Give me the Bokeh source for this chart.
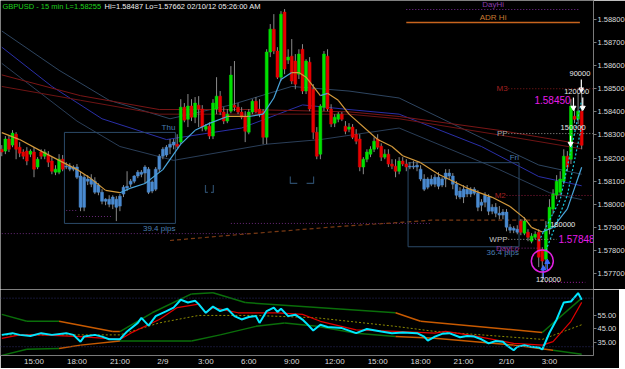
from bokeh.plotting import figure
from bokeh.models import Range1d, FixedTicker, PrintfTickFormatter, Label, Span
from bokeh.layouts import column
from bokeh.embed import file_html
from bokeh.resources import INLINE
from bokeh.core.properties import value

# ---------------- data ----------------
symbol = "GBPUSD"
interval = "15 min"
stamp = "02/10/12  05:26:00 AM"
day_start = 141  # first bar of 2/10

opens = [
1.58238,1.58230,1.58282,1.58256,1.58303,1.58247,1.58226,1.58230,1.58217,1.58226,
1.58161,1.58226,1.58208,1.58213,1.58187,1.58139,1.58139,1.58195,1.58161,1.58165,
1.58152,1.58161,1.58122,1.57987,1.58109,1.58109,1.58100,1.58083,1.58052,1.58013,
1.58022,1.58000,1.58022,1.57992,1.58044,1.58070,1.58087,1.58100,1.58122,1.58130,
1.58135,1.58152,1.58057,1.58065,1.58152,1.58208,1.58213,1.58247,1.58256,1.58260,
1.58269,1.58420,1.58368,1.58425,1.58377,1.58429,1.58412,1.58325,1.58338,1.58295,
1.58412,1.58468,1.58399,1.58360,1.58403,1.58429,1.58420,1.58399,1.58381,1.58312,
1.58399,1.58446,1.58412,1.58403,1.58290,1.58659,1.58758,1.58663,1.58550,1.58832,
1.58624,1.58641,1.58620,1.58563,1.58671,1.58490,1.58615,1.58498,1.58312,1.58217,
1.58420,1.58641,1.58412,1.58351,1.58368,1.58390,1.58338,1.58325,1.58334,1.58303,
1.58282,1.58161,1.58195,1.58217,1.58238,1.58282,1.58251,1.58204,1.58217,1.58174,
1.58165,1.58143,1.58187,1.58174,1.58161,1.58165,1.58161,1.58152,1.58109,1.58074,
1.58109,1.58087,1.58117,1.58083,1.58109,1.58135,1.58122,1.58087,1.58057,1.58031,
1.58065,1.58044,1.58065,1.58048,1.57996,1.58009,1.58031,1.57970,1.57987,1.57961,
1.57953,1.57966,1.57901,1.57888,1.57892,1.57927,1.57875,1.57879,1.57840,1.57857,
1.57879,1.57805,1.57762,1.57892,1.57979,1.58039,1.58052,1.58100,1.58208,1.58195,
1.58381,1.58368,1.58403]
highs = [
1.58256,1.58295,1.58295,1.58321,1.58312,1.58269,1.58238,1.58247,1.58238,1.58247,
1.58204,1.58238,1.58238,1.58230,1.58204,1.58169,1.58217,1.58213,1.58182,1.58178,
1.58169,1.58174,1.58143,1.58130,1.58126,1.58130,1.58117,1.58091,1.58065,1.58026,
1.58039,1.58039,1.58035,1.58044,1.58083,1.58143,1.58109,1.58126,1.58148,1.58148,
1.58169,1.58161,1.58103,1.58161,1.58217,1.58247,1.58256,1.58282,1.58282,1.58303,
1.58455,1.58438,1.58477,1.58455,1.58464,1.58468,1.58429,1.58347,1.58355,1.58455,
1.58550,1.58490,1.58420,1.58412,1.58598,1.58620,1.58438,1.58420,1.58403,1.58412,
1.58455,1.58464,1.58455,1.58412,1.58671,1.58780,1.58823,1.58680,1.58836,1.58845,
1.58671,1.58715,1.58650,1.58671,1.58693,1.58628,1.58637,1.58520,1.58334,1.58433,
1.58663,1.58671,1.58433,1.58390,1.58399,1.58399,1.58360,1.58351,1.58347,1.58325,
1.58303,1.58204,1.58238,1.58251,1.58290,1.58303,1.58264,1.58238,1.58238,1.58195,
1.58195,1.58204,1.58204,1.58195,1.58182,1.58187,1.58182,1.58169,1.58130,1.58117,
1.58126,1.58130,1.58139,1.58117,1.58152,1.58152,1.58135,1.58100,1.58074,1.58083,
1.58083,1.58074,1.58074,1.58061,1.58022,1.58052,1.58044,1.58000,1.58005,1.57992,
1.57979,1.57979,1.57914,1.57905,1.57909,1.57935,1.57944,1.57892,1.57875,1.57883,
1.57892,1.57814,1.57927,1.58022,1.58065,1.58126,1.58143,1.58238,1.58230,1.58455,
1.58420,1.58477,1.58487]
lows = [
1.58208,1.58217,1.58226,1.58247,1.58195,1.58204,1.58195,1.58169,1.58204,1.58117,
1.58152,1.58195,1.58195,1.58161,1.58130,1.58126,1.58130,1.58143,1.58152,1.58143,
1.58143,1.58109,1.57970,1.57970,1.58083,1.58074,1.58044,1.58039,1.58000,1.57996,
1.57987,1.57979,1.57927,1.57970,1.58031,1.58057,1.58074,1.58091,1.58113,1.58117,
1.58091,1.58044,1.58048,1.58057,1.58139,1.58195,1.58204,1.58217,1.58238,1.58243,
1.58260,1.58355,1.58334,1.58360,1.58351,1.58334,1.58316,1.58316,1.58282,1.58282,
1.58390,1.58386,1.58347,1.58351,1.58394,1.58403,1.58390,1.58368,1.58269,1.58303,
1.58390,1.58394,1.58377,1.58260,1.58260,1.58637,1.58650,1.58542,1.58533,1.58563,
1.58607,1.58520,1.58498,1.58542,1.58477,1.58477,1.58403,1.58282,1.58195,1.58195,
1.58403,1.58403,1.58334,1.58334,1.58355,1.58360,1.58303,1.58312,1.58282,1.58260,
1.58143,1.58130,1.58182,1.58204,1.58226,1.58238,1.58187,1.58195,1.58161,1.58152,
1.58117,1.58130,1.58165,1.58143,1.58152,1.58152,1.58143,1.58100,1.58057,1.58065,
1.58078,1.58074,1.58065,1.58074,1.58074,1.58109,1.58065,1.58022,1.58022,1.58005,
1.58031,1.58031,1.58039,1.57970,1.57970,1.57987,1.57953,1.57957,1.57944,1.57935,
1.57935,1.57883,1.57875,1.57875,1.57870,1.57866,1.57866,1.57840,1.57831,1.57849,
1.57728,1.57662,1.57719,1.57870,1.57957,1.58022,1.58039,1.58087,1.58143,1.58174,
1.58351,1.58347,1.58238]
closes = [
1.58226,1.58282,1.58238,1.58308,1.58238,1.58221,1.58208,1.58187,1.58230,1.58152,
1.58195,1.58208,1.58226,1.58182,1.58143,1.58152,1.58195,1.58152,1.58165,1.58152,
1.58161,1.58117,1.57987,1.58117,1.58100,1.58087,1.58052,1.58052,1.58013,1.58022,
1.58000,1.58031,1.57987,1.58035,1.58074,1.58078,1.58100,1.58122,1.58139,1.58139,
1.58161,1.58052,1.58096,1.58152,1.58208,1.58238,1.58247,1.58260,1.58269,1.58251,
1.58420,1.58364,1.58425,1.58377,1.58438,1.58412,1.58334,1.58338,1.58295,1.58438,
1.58468,1.58399,1.58360,1.58390,1.58559,1.58420,1.58399,1.58377,1.58316,1.58399,
1.58446,1.58399,1.58390,1.58290,1.58659,1.58758,1.58663,1.58550,1.58823,1.58585,
1.58637,1.58533,1.58520,1.58650,1.58490,1.58620,1.58412,1.58312,1.58208,1.58425,
1.58650,1.58412,1.58347,1.58377,1.58390,1.58368,1.58316,1.58334,1.58290,1.58273,
1.58161,1.58195,1.58226,1.58238,1.58273,1.58247,1.58204,1.58217,1.58174,1.58165,
1.58143,1.58187,1.58174,1.58161,1.58165,1.58161,1.58169,1.58109,1.58065,1.58109,
1.58087,1.58117,1.58078,1.58109,1.58135,1.58122,1.58087,1.58039,1.58031,1.58065,
1.58044,1.58065,1.58048,1.57987,1.58009,1.58039,1.57970,1.57987,1.57961,1.57953,
1.57966,1.57901,1.57888,1.57896,1.57879,1.57879,1.57927,1.57857,1.57862,1.57870,
1.57771,1.57754,1.57892,1.57987,1.58044,1.58100,1.58109,1.58208,1.58161,1.58425,
1.58368,1.58403,1.58255]

# session boxes
sess_names = ["Thu", "Fri"]
sess_start = [18, 114]
sess_end = [48, 144]
sess_high = [1.58311, 1.58180]
sess_pips = [39.4, 36.4]

# open-range brackets (left bar, right bar, top, bottom)
brk_left = [56.9, 80.6]
brk_right = [59.1, 87.1]
brk_top = [1.58083, 1.58120]
brk_bot = [1.58051, 1.58090]

# moving averages (bar index, price)
ma1_i = [0,5,11,16,21,25,29,33,36,40,45,50,54,58,63,69,73,76,78,81,83,85,87,89,91,94,97,105,109,112,117,122,130,137,142,146,148,151,154,158,162]
ma1_p = [1.5831,1.5828,1.5823,1.5819,1.5815,1.5811,1.5806,1.5805,1.5807,1.5809,1.5815,1.5826,1.5832,1.5835,1.5838,1.5838,1.5839,1.5846,1.5854,1.5857,1.5857,1.5855,1.5851,1.5847,1.5848,1.5845,1.5839,1.5828,1.5825,1.5821,1.5818,1.5813,1.5807,1.5803,1.5799,1.5794,1.5790,1.5788,1.5790,1.5798,1.5816]
slate_top_i = [0,16,30,47,64,81,97,111,135,150,162]
slate_top_p = [1.5875,1.5858,1.5845,1.5837,1.5843,1.5851,1.5849,1.5846,1.5828,1.5817,1.5813]
navy_i = [0,14,28,46,67,84,97,111,134,150,162]
navy_p = [1.5868,1.5851,1.5837,1.5828,1.5833,1.5843,1.5841,1.5839,1.5825,1.5812,1.5808]
slate_bot_i = [0,21,33,48,74,89,111,139,153,162]
slate_bot_p = [1.5861,1.5836,1.5825,1.5819,1.5826,1.5828,1.5833,1.5815,1.5805,1.5802]
red_i = [0,22,44,69,97,111,139,162]
redA_p = [1.5856,1.5847,1.5841,1.5841,1.5840,1.5838,1.5832,1.5826]
redB_p = [1.5851,1.5845,1.5839,1.5839,1.5839,1.5837,1.5830,1.5824]
cyan1_i = [150,156,162]
cyan1_p = [1.5784,1.5802,1.5845]
cyan2_i = [152,158,162]
cyan2_p = [1.5780,1.5804,1.5834]
adrlo_i = [47,64,92,120,152]
adrlo_p = [1.57843,1.57866,1.57901,1.57931,1.57931]

# signal arrows (bar, arrow top price, arrow bottom price)
dn_bar = [158.9, 159.7, 161.9, 162.3]
dn_top = [1.58296, 1.58462, 1.58540, 1.58462]
dn_bot = [1.58262, 1.58418, 1.58497, 1.58418]
up_bar = [151.3, 152.4]
up_top = [1.57722, 1.57750]
up_bot = [1.57680, 1.57712]

# pivot / range levels
lvl_names = ["DayHi", "ADR Hi", "M3", "PP", "M2", "WPP", "DayLo"]
lvl_prices = [1.58843, 1.58787, 1.58500, 1.58306, 1.58038, 1.57848, 1.57810]
sup_prices = [1.57873, 1.57917, 1.57973, 1.57947]
mark_price = 1.58450
vol_text = ["90000", "120000", "150000", "180000", "120000"]
vol_bar = [161.5, 160.6, 159.6, 156.7, 152.7]
vol_price = [1.58566, 1.58488, 1.58332, 1.57912, 1.57674]

# oscillator
rsi_i = [0,3,5,8,11,14,18,20,22,23,26,28,30,33,35,38,39,41,43,46,48,50,52,54,55,57,59,61,63,65,67,69,71,72,74,76,77,78,80,82,84,85,87,89,91,95,99,102,106,109,112,116,118,119,121,123,125,128,130,132,134,136,138,140,141,143,144,146,148,150,151,153,155,157,159,161,162]
rsi_v = [40.4,41.7,40.4,39.6,41.7,40.4,41.7,40.4,35.3,39.1,40.4,39.1,37.1,37.1,43.0,49.4,53.2,47.3,54.5,58.3,60.9,66.8,64.7,66.0,63.5,57.0,61.7,58.3,60.0,54.5,52.0,53.8,54.5,49.4,58.3,60.9,57.6,60.0,54.5,55.6,51.9,49.4,43.7,48.0,46.3,45.5,41.7,44.8,43.0,41.7,42.2,41.7,39.1,36.1,39.1,41.2,41.7,38.6,39.6,39.1,37.1,34.0,35.8,35.3,32.7,28.8,31.4,32.7,31.4,31.0,29.4,42.0,52.0,64.8,65.5,71.8,66.87]
sig_i = [0,5,11,22,33,36,44,49,55,57,59,66,77,84,89,99,110,121,124,132,143,151,154,159,162]
sig_v = [37.8,40.4,40.4,39.1,37.0,41.7,52.0,60.9,63.5,57.0,60.9,57.0,57.0,55.8,50.6,44.2,43.0,41.7,43.0,39.6,34.0,32.7,35.3,50.6,64.8]
upper_i = [0,7,16,31,33,42,53,59,68,110,117,151,162]
upper_v = [55.8,50.6,50.6,42.9,42.9,57.0,71.2,72.0,64.7,57.0,50.6,42.2,68.0]
lower_i = [0,7,16,22,33,53,61,71,79,88,99,110,121,143,154,162]
lower_v = [25.0,29.6,30.1,32.7,35.8,35.8,40.4,46.8,49.4,46.8,41.7,39.1,37.8,32.7,28.8,25.8]
mid_i = [0,33,44,55,71,88,110,121,143,151,162]
mid_v = [40.4,40.4,49.4,55.0,55.0,53.2,46.8,43.0,38.6,37.0,48.0]
osc_levels = [68.0, 31.5]
squeeze_spans = [(16, 33), (110, 151)]

price_ticks = [1.577,1.578,1.579,1.580,1.581,1.582,1.583,1.584,1.585,1.586,1.587,1.588]
osc_ticks = [35, 45, 55]
tick_bars = [9,21,33,45,57,69,81,93,105,117,129,141,153]
tick_labels = ["15:00","18:00","21:00","2/9","3:00","6:00","9:00","12:00","15:00","18:00","21:00","2/10","3:00"]

# ---------------- drawing ----------------
FONT = "Liberation Sans"
F = value(FONT)
x_lo, x_hi = -0.36, 165.3
y_lo, y_hi = 1.57631, 1.58882
FW, FH = 593, 289

def style_axis(ax, size):
    ax.major_label_text_color = "#dcdcdc"
    ax.major_label_text_font = FONT
    ax.major_label_text_font_size = size
    ax.axis_line_color = "#7a7a7a"
    ax.major_tick_line_color = "#7a7a7a"
    ax.major_tick_out = 3
    ax.major_tick_in = 0
    ax.minor_tick_out = 0
    ax.minor_tick_in = 0
    ax.major_label_standoff = 1

p = figure(frame_width=FW, frame_height=FH, x_range=Range1d(x_lo, x_hi), y_range=Range1d(y_lo, y_hi),
           x_axis_location=None, y_axis_location="right", toolbar_location=None, output_backend="svg",
           background_fill_color="black", border_fill_color="black", outline_line_color=None,
           min_border_left=0, min_border_right=0, min_border_top=0, min_border_bottom=0)
p.grid.visible = False
yax = p.yaxis[0]
yax.ticker = FixedTicker(ticks=price_ticks)
yax.formatter = PrintfTickFormatter(format="%.5f")
style_axis(yax, "7.5px")

def txt(fig, x, y, s, color, size="8px", align="left", baseline="middle"):
    fig.text(x=[x], y=[y], text=[s], text_color=color, text_font=F, text_font_size=size,
             text_align=align, text_baseline=baseline)

# long moving averages
p.line(slate_top_i, slate_top_p, line_color="#2e4560", line_width=1)
p.line(slate_bot_i, slate_bot_p, line_color="#2a3e58", line_width=1)
p.line(navy_i, navy_p, line_color="#2a2fa8", line_width=1)
p.line(red_i, redA_p, line_color="#7a1616", line_width=1)
p.line(red_i, redB_p, line_color="#6e1414", line_width=1)

# support / range lines
sup_span = [(0, 69), (64, 120), (18, 21), (21, 31)]
for pr, (a, b) in zip(sup_prices, sup_span):
    p.line([a, b], [pr, pr], line_color="#6a2a7a", line_dash="1 2", line_width=1)
p.line(adrlo_i, adrlo_p, line_color="#7a3a14", line_dash="4 3", line_width=1.2)

# session boxes
for nm, s, e, hi, pips in zip(sess_names, sess_start, sess_end, sess_high, sess_pips):
    lo = hi - pips / 10000.0
    p.quad(left=[s - 0.5], right=[e + 0.5], top=[hi], bottom=[lo], fill_color=None,
           line_color="#2b4a68", line_width=1)
    txt(p, e + 0.5, hi + 0.00003, nm, "#4a7eb0", "8px", "right", "bottom")
    txt(p, e + 0.5, lo - 0.00004, f"{pips:.1f} pips", "#4a7eb0", "8px", "right", "top")

# open-range brackets
for l, r, t, b in zip(brk_left, brk_right, brk_top, brk_bot):
    w = (r - l) * 0.3
    p.line([l, l, l + w], [t, b, b], line_color="#2b4a68", line_width=1.2)
    p.line([r - w, r, r], [b, b, t], line_color="#2b4a68", line_width=1.2)

# candles
bars = list(range(len(closes)))
in_sess = [any(s <= i <= e for s, e in zip(sess_start, sess_end)) for i in bars]
cols = ["#4a8ad0" if ss else ("#00e000" if c >= o else "#e60000")
        for ss, o, c in zip(in_sess, opens, closes)]
p.segment(x0=bars, y0=lows, x1=bars, y1=highs, line_color="#8a8a8a", line_width=1)
p.vbar(x=bars, top=[max(o, c) for o, c in zip(opens, closes)],
       bottom=[min(o, c) for o, c in zip(opens, closes)], width=0.8,
       fill_color=cols, line_color=cols, line_width=0.5)

# short MA coloured by direction
seg_cols = ["#4aa6dc" if b > a else "#d49a3c" for a, b in zip(ma1_p[:-1], ma1_p[1:])]
p.segment(x0=ma1_i[:-1], y0=ma1_p[:-1], x1=ma1_i[1:], y1=ma1_p[1:], line_color=seg_cols, line_width=1.2)
p.line(cyan1_i, cyan1_p, line_color="#18c8dc", line_dash="2 2", line_width=1.2)
p.line(cyan2_i, cyan2_p, line_color="#18c8dc", line_dash="2 2", line_width=1.2)

# signal arrows
p.segment(x0=dn_bar, y0=dn_top, x1=dn_bar, y1=dn_bot, line_color="white", line_width=1.2)
p.scatter(dn_bar, dn_bot, marker="inverted_triangle", size=5, fill_color="white", line_color="white")
p.segment(x0=up_bar, y0=up_top, x1=up_bar, y1=up_bot, line_color="#3a6aff", line_width=1.2)
p.scatter(up_bar, up_top, marker="triangle", size=5, fill_color="#3a6aff", line_color="#3a6aff")

# levels
lvl_style = {
    "DayHi": dict(span=(113, 161.5), color="#7a2a9a", dash="1 2", w=1, lab="#8a3aaa", where="above"),
    "ADR Hi": dict(span=(113, 161.5), color="#c8641e", dash="solid", w=1.5, lab="#c87a30", where="above"),
    "M3": dict(span=(141.5, 165.3), color="#8c1c1c", dash="1 2", w=1, lab="#a02020", where="left"),
    "PP": dict(span=(141.5, 165.3), color="#9a9a9a", dash="1 2", w=1, lab="#a8a8a8", where="left"),
    "M2": dict(span=(141.0, 165.3), color="#8c1c3c", dash="1 2", w=1, lab="#a02020", where="left"),
    "WPP": dict(span=(141.5, 155.0), color="#a0a0a0", dash="1 2", w=1, lab="#c4c4c4", where="left"),
    "DayLo": dict(span=(138.5, 150.5), color="#8a2a8a", dash="1 2", w=1, lab="#8a3a9a", where="over"),
}
for nm, pr in zip(lvl_names, lvl_prices):
    st = lvl_style[nm]
    a, b = st["span"]
    p.line([a, b], [pr, pr], line_color=st["color"], line_dash=st["dash"], line_width=st["w"])
    if st["where"] == "above":
        txt(p, (a + b) / 2, pr + 0.00002, nm, st["lab"], "8px", "center", "bottom")
    elif st["where"] == "left":
        txt(p, a - 0.2, pr, nm, st["lab"], "8px", "right", "middle")
    else:
        txt(p, a + 6, pr, nm, st["lab"], "8px", "right", "middle")

# day low dotted marker
day_lo = min(lows[day_start:])
day_hi = max(highs[day_start:])
p.line([152, 163], [day_lo, day_lo], line_color="#a020a0", line_dash="1 2", line_width=1)

# magenta price labels
wpp = lvl_prices[lvl_names.index("WPP")]
txt(p, 155.5, wpp, f"{wpp:.5f}", "#e81ce8", "10px", "left", "middle")
txt(p, 158.9, mark_price, f"{mark_price:.5f}", "#e81ce8", "10px", "right", "middle")

# circle around the low bar
k = lows.index(day_lo)
p.scatter([k], [closes[k]], marker="circle", size=22, fill_color=None, line_color="#e020e0", line_width=1.5)

# volume labels
p.text(x=vol_bar, y=vol_price, text=vol_text, text_color="#e8e8e8", text_font=F,
       text_font_size="7.5px", text_align="center", text_baseline="middle")

# title
tx = x_lo + (x_hi - x_lo) * 2 / FW
tx2 = x_lo + (x_hi - x_lo) * 104 / FW
ty = y_hi - (y_hi - y_lo) * 5.5 / FH
txt(p, tx, ty, f"{symbol} - {interval}  L={closes[-1]:.5f}", "#1ed21e", "7.5px", "left", "middle")
txt(p, tx2, ty, f"Hi={day_hi:.5f}  Lo={day_lo:.5f}  {stamp}", "#f0f0f0", "7.5px", "left", "middle")

# last price tag on axis
p.add_layout(Label(x=x_hi, y=closes[-1], x_offset=1, text=f"{closes[-1]:.5f}", text_color="white",
                   text_font=FONT, text_font_size="7.5px", text_baseline="middle", text_align="left",
                   background_fill_color="#ff0000", padding=1))

# ---------------- oscillator panel ----------------
q = figure(frame_width=FW, frame_height=66, x_range=p.x_range, y_range=Range1d(24.9, 74.5),
           x_axis_location="below", y_axis_location="right", toolbar_location=None, output_backend="svg",
           background_fill_color="black", border_fill_color="black", outline_line_color=None,
           min_border_left=0, min_border_right=0, min_border_top=0, min_border_bottom=0)
q.grid.visible = False
qy = q.yaxis[0]
qy.ticker = FixedTicker(ticks=osc_ticks)
qy.formatter = PrintfTickFormatter(format="%.2f")
style_axis(qy, "7.5px")
qx = q.xaxis[0]
qx.ticker = FixedTicker(ticks=tick_bars)
qx.major_label_overrides = {b: l for b, l in zip(tick_bars, tick_labels)}
style_axis(qx, "8px")
qx.major_tick_out = 0

for lv in osc_levels:
    q.add_layout(Span(location=lv, dimension="width", line_color="#2c2c66", line_dash="1 2", line_width=1))

def band(xs, vs):
    cs = ["#c85a00" if any(s <= (a + b) / 2 <= e for s, e in squeeze_spans) else "#0a6e0a"
          for a, b in zip(xs[:-1], xs[1:])]
    q.segment(x0=xs[:-1], y0=vs[:-1], x1=xs[1:], y1=vs[1:], line_color=cs, line_width=1.5)

band(upper_i, upper_v)
band(lower_i, lower_v)
q.line(mid_i, mid_v, line_color="#8c8a00", line_dash="2 2", line_width=1)
q.line(sig_i, sig_v, line_color="#e00000", line_width=1.2)
q.line(rsi_i, rsi_v, line_color="#00e6ff", line_width=2)
q.add_layout(Label(x=x_hi, y=rsi_v[-1], x_offset=1, text=f"{rsi_v[-1]:.2f}", text_color="black",
                   text_font=FONT, text_font_size="7.5px", text_baseline="middle", text_align="left",
                   background_fill_color="#00ffff", padding=1))

layout = column(p, q, spacing=0)
html = file_html(layout, INLINE, title="GBPUSD 15 min")
html = html.replace("<body>", '<body style="background:#000;margin:0;">', 1)
open("out.html", "w").write(html)
